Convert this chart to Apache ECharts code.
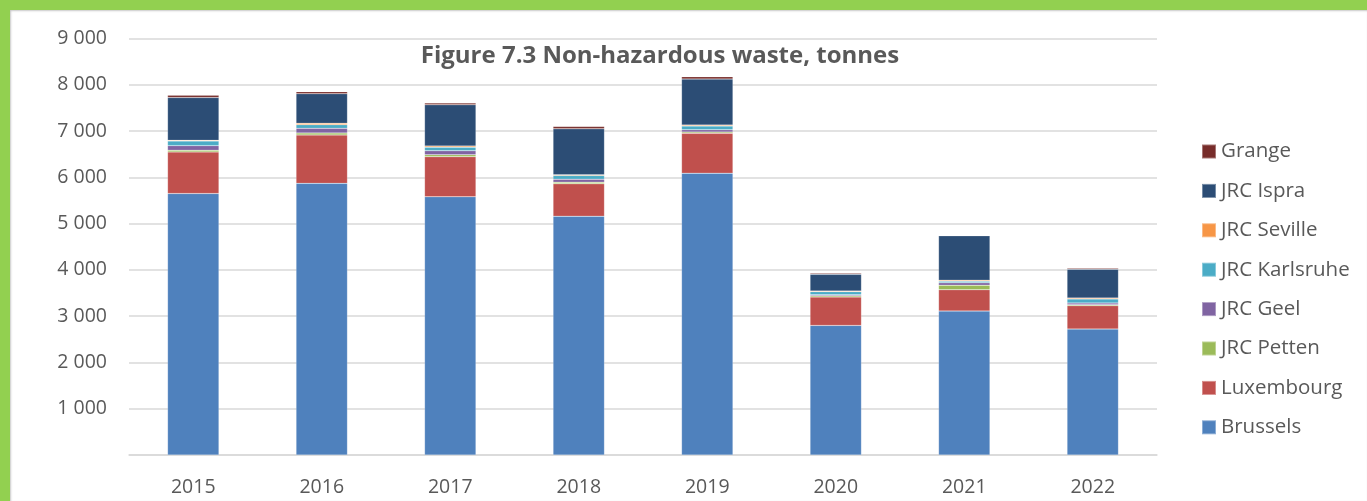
<!DOCTYPE html>
<html>
<head>
<meta charset="utf-8">
<script src="https://cdn.jsdelivr.net/npm/echarts@6/dist/echarts.min.js"></script>
<style>
  html, body { margin: 0; padding: 0; background: #92d050; }
  #chart {
    position: absolute;
    left: 10px;
    top: 10px;
    width: 1357px;
    height: 491px;
    background: #fff;
    box-shadow: inset 1px 1px 2px #c8c8c8;
  }
</style>
</head>
<body>
<div id="chart"></div>
<script>
// years on the x axis
const years = ['2015', '2016', '2017', '2018', '2019', '2020', '2021', '2022']

// tonnes per site
const brussels = [5650, 5870, 5580, 5160, 6090, 2800, 3110, 2720]
const luxembourg = [900, 1045, 865, 700, 860, 614, 460, 506]
const jrcPetten = [35, 44, 43, 36, 28, 28, 100, 22]
const jrcGeel = [100, 100, 86, 65, 50, 22, 50, 36]
const jrcKarlsruhe = [100, 78, 74, 78, 80, 65, 37, 87]
const jrcSeville = [15, 30, 28, 15, 21, 15, 21, 21]
const jrcIspra = [925, 640, 892, 994, 994, 360, 960, 621]
const grange = [50, 43, 37, 50, 50, 22, 8, 21]

const sites = [
  { name: 'Brussels', data: brussels, color: '#4f81bd' },
  { name: 'Luxembourg', data: luxembourg, color: '#c0504d' },
  { name: 'JRC Petten', data: jrcPetten, color: '#9bbb59' },
  { name: 'JRC Geel', data: jrcGeel, color: '#8064a2' },
  { name: 'JRC Karlsruhe', data: jrcKarlsruhe, color: '#4bacc6' },
  { name: 'JRC Seville', data: jrcSeville, color: '#f79646' },
  { name: 'JRC Ispra', data: jrcIspra, color: '#2c4d75' },
  { name: 'Grange', data: grange, color: '#772c2a' }
]

const font = '"Open Sans", sans-serif'
const grey = '#595959'

let series = sites.map(s => ({
  name: s.name,
  type: 'bar',
  stack: 'waste',
  barWidth: '40%',
  itemStyle: { color: s.color, borderColor: 'rgba(255,255,255,0.35)', borderWidth: 0.5 },
  data: s.data
}))

let chart = echarts.init(document.getElementById('chart'))
chart.setOption({
  animation: false,
  title: {
    text: 'Figure 7.3 Non-hazardous waste, tonnes',
    left: 650,
    top: 34,
    textAlign: 'center',
    padding: 0,
    textStyle: { fontFamily: font, fontSize: 24, fontWeight: 'bold', color: grey }
  },
  legend: {
    orient: 'vertical',
    left: 1191,
    top: 131,
    padding: 0,
    itemWidth: 14,
    itemHeight: 14,
    itemGap: 18.4,
    icon: 'rect',
    data: sites.map(s => s.name).reverse(),
    textStyle: { fontFamily: font, fontSize: 20.5, color: grey, lineHeight: 20 }
  },
  grid: {
    left: 119,
    right: 210,
    top: 28.5,
    bottom: 46,
    containLabel: false
  },
  xAxis: {
    type: 'category',
    data: years,
    axisLine: { lineStyle: { color: '#d9d9d9', width: 1.5 } },
    axisTick: { show: false },
    axisLabel: { margin: 22, fontFamily: font, fontSize: 19.5, color: grey }
  },
  yAxis: {
    type: 'value',
    min: 0,
    max: 9000,
    interval: 1000,
    axisLine: { show: false },
    axisTick: { show: false },
    splitLine: { lineStyle: { color: '#d9d9d9', width: 1.5 } },
    axisLabel: {
      margin: 22,
      fontFamily: font,
      fontSize: 19.5,
      color: grey,
      formatter (v) {
        return v === 0 ? '' : String(v).replace(/\B(?=(\d{3})+(?!\d))/g, ' ')
      }
    }
  },
  series: series
})
</script>
</body>
</html>
